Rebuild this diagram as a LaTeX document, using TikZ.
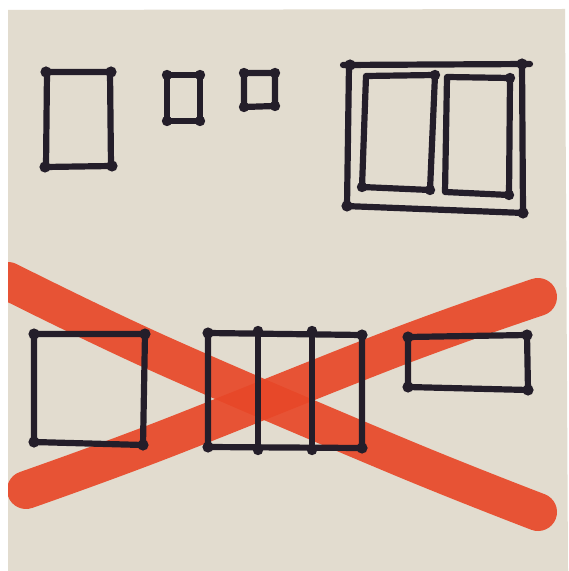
\documentclass[tikz,border=0pt]{standalone}
\usepackage{tikz}
\definecolor{paper}{RGB}{226,220,207}
\definecolor{ink}{RGB}{36,30,42}
\definecolor{marker}{RGB}{232,72,40}

\begin{document}
\begin{tikzpicture}[x=0.5pt,y=-0.5pt,k/.style={draw=ink,line width=3.1pt,line cap=round,line join=round},d/.style={fill=ink},m/.style={draw=marker,line width=19pt,line cap=round,opacity=0.92}]
\useasboundingbox (0,0) rectangle (568,571);
\fill[white] (0,0) rectangle (568,571);
\fill[paper] (8,10) -- (565,9) -- (568,571) -- (8,571) -- cycle;
% red cross
\begin{scope}
\clip (8,10) -- (565,9) -- (568,571) -- (8,571) -- cycle;
\draw[m] plot[smooth,tension=0.6] coordinates {(8,281) (160,354) (400,457) (538,512)};
\draw[m] plot[smooth,tension=0.6] coordinates {(26,490) (160,441) (400,346) (538,297)};
\end{scope}
% top row
\draw[k] (47,72) -- (110,72) -- (111,166) -- (46,167) -- cycle;
\draw[k] (167,75) -- (200,75) -- (200,121) -- (167,121) -- cycle;
\draw[k] (244,73) -- (275,73) -- (275,106) -- (244,107) -- cycle;
\draw[k] (343,65) -- (530,64);
\draw[k] (349,65) -- (347,206);
\draw[k] (522,64) -- (523,213);
\draw[k] (345,206) -- (524,213);
\draw[k] (366,76) -- (435,75) -- (430,190) -- (362,187) -- cycle;
\draw[k] (447,77) -- (510,78) -- (509,195) -- (445,192) -- cycle;
% bottom row
\draw[k] (34,334) -- (145,334) -- (143,445) -- (34,442) -- cycle;
\draw[k] (208,333) -- (362,335) -- (362,448) -- (208,447) -- cycle;
\draw[k] (258,331) -- (258,450);
\draw[k] (312,331) -- (312,450);
\draw[k] (408,337) -- (527,335) -- (528,390) -- (408,387) -- cycle;
% corner dots
\fill[d] (46,72) circle[radius=2.8pt] (111,72) circle[radius=2.8pt] (112,166) circle[radius=2.8pt] (45,167) circle[radius=2.8pt];
\fill[d] (167,75) circle[radius=2.6pt] (200,75) circle[radius=2.6pt] (200,121) circle[radius=2.6pt] (167,121) circle[radius=2.6pt];
\fill[d] (244,73) circle[radius=2.6pt] (275,73) circle[radius=2.6pt] (275,106) circle[radius=2.6pt] (244,107) circle[radius=2.6pt];
\fill[d] (350,65) circle[radius=2.8pt] (522,64) circle[radius=2.8pt] (523,213) circle[radius=2.8pt] (347,206) circle[radius=2.8pt];
\fill[d] (362,187) circle[radius=2.6pt] (430,190) circle[radius=2.6pt] (435,75) circle[radius=2.6pt] (509,195) circle[radius=2.6pt] (510,78) circle[radius=2.6pt];
\fill[d] (34,334) circle[radius=2.8pt] (145,334) circle[radius=2.8pt] (143,445) circle[radius=2.8pt] (34,442) circle[radius=2.8pt];
\fill[d] (208,333) circle[radius=2.8pt] (362,335) circle[radius=2.8pt] (362,448) circle[radius=2.8pt] (208,447) circle[radius=2.8pt];
\fill[d] (258,331) circle[radius=2.6pt] (258,450) circle[radius=2.6pt] (312,331) circle[radius=2.6pt] (312,450) circle[radius=2.6pt];
\fill[d] (408,337) circle[radius=2.8pt] (527,335) circle[radius=2.8pt] (528,390) circle[radius=2.8pt] (408,387) circle[radius=2.8pt];
\end{tikzpicture}
\end{document}
